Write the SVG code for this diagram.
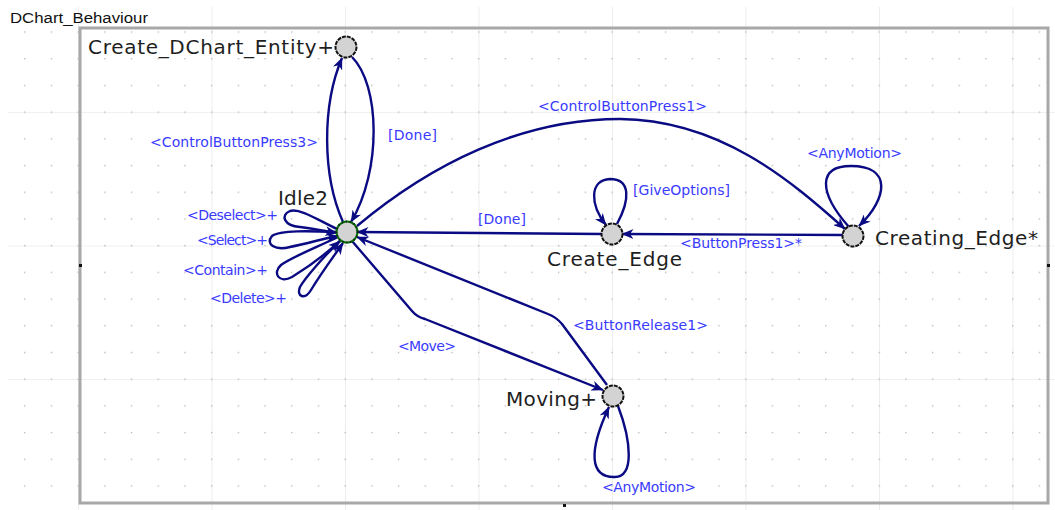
<svg xmlns="http://www.w3.org/2000/svg" width="1055" height="510" viewBox="0 0 1055 510">
  <style>
    .edge { fill: none; stroke: #0a0a82; stroke-width: 2.4; stroke-linejoin: round; marker-end: url(#arrow); }
    .lbl { font-family: "DejaVu Sans", "Liberation Sans", sans-serif; font-size: 14px; fill: #3a3aff; }
    .name { font-family: "DejaVu Sans", "Liberation Sans", sans-serif; font-size: 20px; fill: #1e1e1e; }
    .state { fill: #d3d3d3; stroke: #111; stroke-width: 2; stroke-dasharray: 4 1; }
    .init { fill: #d3d3d3; stroke: #0a6e0a; stroke-width: 2; }
    .handle { fill: #111; }
  </style>
  <defs>
    <pattern id="dots" patternUnits="userSpaceOnUse" x="24.1" y="4.7" width="26.7" height="26.7">
      <rect x="0" y="0" width="1.3" height="1.3" fill="#b4b4b4"/>
    </pattern>
    <pattern id="grid" patternUnits="userSpaceOnUse" x="78" y="-21.5" width="133.5" height="133.5">
      <path d="M0,0 V133.5 M0,0 H133.5" fill="none" stroke="#e2e2e2" stroke-width="1.2"/>
    </pattern>
    <marker id="arrow" markerUnits="userSpaceOnUse" viewBox="0 0 12 10" refX="11.5" refY="5" markerWidth="12" markerHeight="10" orient="auto">
      <path d="M0,0 L12,5 L0,10 L3.5,5 Z" fill="#0a0a82"/>
    </marker>
  </defs>

  <!-- background grid -->
  <rect x="0" y="0" width="1055" height="510" fill="#ffffff"/>
  <rect x="8" y="7" width="1047" height="503" fill="url(#grid)"/>
  <rect x="8" y="7" width="1047" height="503" fill="url(#dots)"/>

  <!-- statechart frame -->
  <text x="10" y="23" font-family="Liberation Sans, Arial, sans-serif" font-size="14" fill="#111" textLength="138" lengthAdjust="spacingAndGlyphs">DChart_Behaviour</text>
  <rect x="80" y="28" width="968" height="475" fill="none" stroke="#a8a8a8" stroke-width="3"/>
  <rect class="handle" x="79" y="264" width="3" height="3"/>
  <rect class="handle" x="1047" y="264" width="3" height="3"/>
  <rect class="handle" x="563" y="504" width="3" height="3"/>

  <!-- transitions -->
  <g id="connectors">
    <path class="edge" d="M343,222 C322,175 322,105 342,58"/>
    <path class="edge" d="M352,57 C380,85 382,170 351,222"/>
    <path class="edge" d="M357,226 C430,165 520,119 620,119 C720,120 790,180 845,229"/>
    <path class="edge" d="M849,227 C818,192 818,166 851,166 C892,166 888,198 859,226"/>
    <path class="edge" d="M843,235 L622,234"/>
    <path class="edge" d="M602,234 L480,233 L357,232"/>
    <path class="edge" d="M617,224 C630,200 631,179 610,179 C589,180 590,205 606,225"/>
    <path class="edge" d="M352,241 L412,311 Q417,317 425,319 L603,390"/>
    <path class="edge" d="M607,385 L562,324 Q556,317 548,314 L357,237"/>
    <path class="edge" d="M618,406 C631,440 635,478 614,477 C590,477 588,452 609,407"/>
    <!-- self transitions of Idle2 -->
    <path class="edge" d="M337,229 C318,220 300,208 290,211 C280,215 284,226 300,227 C315,229 325,231 337,233"/>
    <path class="edge" d="M337,232 C310,231 280,230 272,236 C265,244 275,251 290,247 C310,243 325,238 338,236"/>
    <path class="edge" d="M338,237 C315,248 290,258 281,265 C272,273 279,284 292,277 C310,266 328,252 340,241"/>
    <path class="edge" d="M341,240 C325,255 305,278 300,287 C296,297 305,300 311,290 C322,272 334,256 343,243"/>
  </g>

  <!-- transition labels -->
  <g id="labels">
    <text class="lbl" x="150" y="147" textLength="168">&lt;ControlButtonPress3&gt;</text>
    <text class="lbl" x="388" y="140" textLength="49">[Done]</text>
    <text class="lbl" x="538" y="111" textLength="169">&lt;ControlButtonPress1&gt;</text>
    <text class="lbl" x="807" y="158" textLength="95">&lt;AnyMotion&gt;</text>
    <text class="lbl" x="633" y="195" textLength="97">[GiveOptions]</text>
    <text class="lbl" x="478" y="224" textLength="48">[Done]</text>
    <text class="lbl" x="680" y="248" textLength="122">&lt;ButtonPress1&gt;*</text>
    <text class="lbl" x="573" y="330" textLength="135">&lt;ButtonRelease1&gt;</text>
    <text class="lbl" x="398" y="351" textLength="58">&lt;Move&gt;</text>
    <text class="lbl" x="602" y="492" textLength="94">&lt;AnyMotion&gt;</text>
    <text class="lbl" x="187" y="220" textLength="91">&lt;Deselect&gt;+</text>
    <text class="lbl" x="197" y="245" textLength="71">&lt;Select&gt;+</text>
    <text class="lbl" x="183" y="275" textLength="85">&lt;Contain&gt;+</text>
    <text class="lbl" x="210" y="303" textLength="77">&lt;Delete&gt;+</text>
  </g>

  <!-- states -->
  <g id="create-dchart-entity">
    <circle class="state" cx="346" cy="47" r="10.5"/>
    <text class="name" x="88" y="54" textLength="246">Create_DChart_Entity+</text>
  </g>
  <g id="idle2">
    <circle class="init" cx="347" cy="232" r="10.5"/>
    <circle cx="347" cy="232" r="10.5" fill="none" stroke="#111" stroke-width="2" stroke-dasharray="1 3"/>
    <text class="name" x="278" y="205" textLength="50">Idle2</text>
  </g>
  <g id="create-edge">
    <circle class="state" cx="612" cy="234" r="10.5"/>
    <text class="name" x="547" y="266" textLength="135">Create_Edge</text>
  </g>
  <g id="creating-edge">
    <circle class="state" cx="853" cy="236" r="10.5"/>
    <text class="name" x="875" y="245" textLength="163">Creating_Edge*</text>
  </g>
  <g id="moving">
    <circle class="state" cx="613" cy="396" r="10.5"/>
    <text class="name" x="506" y="406" textLength="91">Moving+</text>
  </g>
</svg>
